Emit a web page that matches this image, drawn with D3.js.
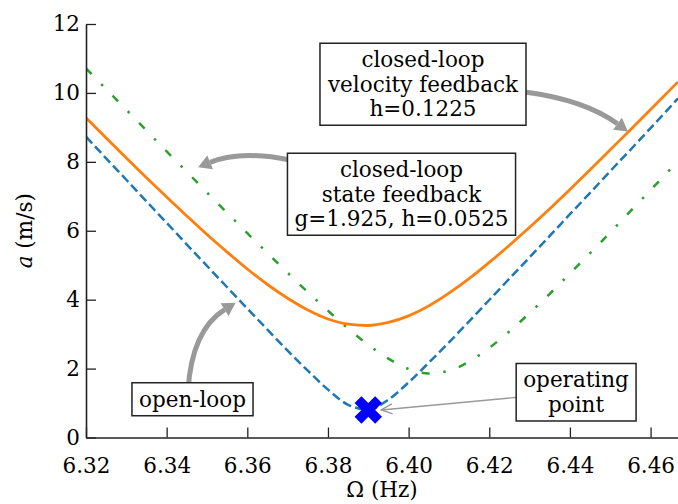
<!DOCTYPE html>
<html>
<head>
<meta charset="utf-8">
<script src="https://cdn.jsdelivr.net/npm/d3@7"></script>
<style>
  html, body { margin: 0; padding: 0; background: #fff; }
  svg { display: block; }
  text { font-family: "DejaVu Serif", serif; fill: #000; }
</style>
</head>
<body>
<svg id="chart" width="678" height="504"></svg>
<script>
// Excitation frequency (Hz)
const freq = [6.320, 6.325, 6.330, 6.335, 6.340, 6.345, 6.350, 6.355, 6.360, 6.365,
              6.370, 6.375, 6.380, 6.385, 6.390, 6.395, 6.400, 6.405, 6.410, 6.415,
              6.420, 6.425, 6.430, 6.435, 6.440, 6.445, 6.450, 6.455, 6.460, 6.465, 6.4668];
// Amplitude a (m/s), open loop
const openLoop = [8.73, 8.10, 7.48, 6.85, 6.23, 5.60, 4.98, 4.36, 3.74, 3.13,
                  2.52, 1.94, 1.39, 0.95, 0.81, 1.10, 1.60, 2.17, 2.76, 3.37,
                  3.99, 4.61, 5.23, 5.85, 6.48, 7.10, 7.73, 8.35, 8.98, 9.61, 9.84];
// Closed loop, velocity feedback h=0.1225
const velocityFb = [9.28, 8.69, 8.11, 7.54, 6.98, 6.43, 5.89, 5.38, 4.89, 4.44,
                    4.04, 3.70, 3.44, 3.29, 3.25, 3.34, 3.53, 3.82, 4.19, 4.61,
                    5.08, 5.58, 6.10, 6.64, 7.20, 7.77, 8.35, 8.93, 9.52, 10.11, 10.32];
// Closed loop, state feedback g=1.925, h=0.0525
const stateFb = [10.71, 10.11, 9.51, 8.91, 8.30, 7.71, 7.11, 6.52, 5.93, 5.35,
                 4.78, 4.22, 3.68, 3.16, 2.69, 2.29, 1.99, 1.86, 1.94, 2.20,
                 2.60, 3.08, 3.61, 4.17, 4.76, 5.35, 5.95, 6.57, 7.18, 7.80, 8.03];
// Operating point (Ω, a)
const operatingPoint = [6.39, 0.8];

const xTicks = [6.32, 6.34, 6.36, 6.38, 6.40, 6.42, 6.44, 6.46];
const yTicks = [0, 2, 4, 6, 8, 10, 12];

const svg = d3.select("#chart");
const padL = 86, padR = 678, padT = 24, padB = 437.5;

const x = d3.scaleLinear().domain([6.32, 6.4668]).range([padL, padR]);
const y = d3.scaleLinear().domain([0, 12]).range([padB, padT]);

// clip for the curves
svg.append("defs").append("clipPath").attr("id", "plotclip")
  .append("rect").attr("x", padL).attr("y", padT - 5).attr("width", padR - padL).attr("height", padB - padT + 5);

const curves = svg.append("g").attr("clip-path", "url(#plotclip)");

function series(vals) { return freq.map((f, i) => [f, vals[i]]); }
const line = d3.line().x(d => x(d[0])).y(d => y(d[1])).curve(d3.curveMonotoneX);

curves.append("path").datum(series(openLoop))
  .attr("d", line).attr("fill", "none").attr("stroke", "#1f77b4")
  .attr("stroke-width", 2.5).attr("stroke-dasharray", "9,4.2");

curves.append("path").datum(series(stateFb))
  .attr("d", line).attr("fill", "none").attr("stroke", "#2ca02c")
  .attr("stroke-width", 2.5).attr("stroke-dasharray", "8,13.75,2.5,13.75");

curves.append("path").datum(series(velocityFb))
  .attr("d", line).attr("fill", "none").attr("stroke", "#ff7f0e")
  .attr("stroke-width", 2.8);

// axes
const xAxis = d3.axisBottom(x).tickValues(xTicks).tickFormat(d3.format(".2f"))
  .tickSizeInner(-10).tickSizeOuter(0).tickPadding(20);
const yAxis = d3.axisLeft(y).tickValues(yTicks).tickFormat(d3.format("d"))
  .tickSizeInner(-10).tickSizeOuter(0).tickPadding(6);

const gx = svg.append("g").attr("transform", `translate(0,${padB})`).call(xAxis);
const gy = svg.append("g").attr("transform", `translate(${padL},0)`).call(yAxis);
[gx, gy].forEach(g => {
  g.selectAll("path.domain").attr("stroke", "#222").attr("stroke-width", 1.6);
  g.selectAll(".tick line").attr("stroke", "#222").attr("stroke-width", 1.3);
  g.selectAll(".tick text").attr("font-family", "DejaVu Serif").attr("font-size", 21.5).attr("fill", "#000");
});

// axis titles
svg.append("text").attr("x", (padL + padR) / 2).attr("y", 497)
  .attr("text-anchor", "middle").attr("font-size", 21.5).text("Ω (Hz)");
const yl = svg.append("text").attr("transform", `translate(32,${(padT + padB) / 2}) rotate(-90)`)
  .attr("text-anchor", "middle").attr("font-size", 21.5);
yl.append("tspan").attr("font-style", "italic").text("a");
yl.append("tspan").text(" (m/s)");

// operating point marker
svg.append("path")
  .attr("d", d3.symbol().type(d3.symbolCross).size(470)())
  .attr("transform", `translate(${x(operatingPoint[0])},${y(operatingPoint[1])}) rotate(45)`)
  .attr("fill", "#0000ff");

// annotations: thick curved arrows with a filled head
const ann = svg.append("g");
const grey = "#999999";

function fancyArrow(p0, c, p1) {
  const [x0, y0] = p0, [cx, cy] = c, [x1, y1] = p1;
  let dx = x1 - cx, dy = y1 - cy;
  const len = Math.hypot(dx, dy); dx /= len; dy /= len;
  const headLen = 13, headHalf = 7.5;
  const bx = x1 - dx * headLen, by = y1 - dy * headLen;
  ann.append("path")
    .attr("d", `M${x0},${y0} Q${cx},${cy} ${bx},${by}`)
    .attr("fill", "none").attr("stroke", grey).attr("stroke-width", 5);
  ann.append("path")
    .attr("d", `M${x1},${y1} L${bx - dy * headHalf},${by + dx * headHalf} L${bx + dy * headHalf},${by - dx * headHalf} Z`)
    .attr("fill", grey);
}

function thinArrow(p0, p1) {
  const [x0, y0] = p0, [x1, y1] = p1;
  let dx = x1 - x0, dy = y1 - y0;
  const len = Math.hypot(dx, dy); dx /= len; dy /= len;
  ann.append("line").attr("x1", x0).attr("y1", y0).attr("x2", x1).attr("y2", y1)
    .attr("stroke", grey).attr("stroke-width", 1.4);
  const hl = 11, hw = 5;
  const bx = x1 - dx * hl, by = y1 - dy * hl;
  ann.append("path")
    .attr("d", `M${bx - dy * hw},${by + dx * hw} L${x1},${y1} L${bx + dy * hw},${by - dx * hw}`)
    .attr("fill", "none").attr("stroke", grey).attr("stroke-width", 1.4);
}

// curve tips in data space
const velTip = [x(6.4544), y(8.88)];
const stateTip = [x(6.3478), y(7.84)];
const openTip = [x(6.3571), y(3.91)];

fancyArrow([525, 92], [585, 100], velTip);
fancyArrow([290, 160], [240, 150], stateTip);
fancyArrow([188, 390], [192, 330], openTip);
thinArrow([520, 397], [x(operatingPoint[0]) + 13, y(operatingPoint[1])]);

// text boxes
function textBox(cx, cy, lines, lineH) {
  const g = ann.append("g");
  const t = g.append("text").attr("text-anchor", "middle").attr("font-size", 21.5);
  const n = lines.length;
  lines.forEach((s, i) => {
    t.append("tspan").attr("x", cx).attr("y", cy + (i - (n - 1) / 2) * lineH).attr("dy", "0.36em").text(s);
  });
  const b = t.node().getBBox();
  const padX = 7, padY = 4;
  g.insert("rect", "text")
    .attr("x", b.x - padX).attr("y", b.y - padY)
    .attr("width", b.width + 2 * padX).attr("height", b.height + 2 * padY)
    .attr("fill", "#fff").attr("stroke", "#222").attr("stroke-width", 1.5);
}

textBox(423, 84, ["closed-loop", "velocity feedback", "h=0.1225"], 24.5);
textBox(401.5, 194, ["closed-loop", "state feedback", "g=1.925, h=0.0525"], 24.5);
textBox(192.5, 399, ["open-loop"], 24.5);
textBox(576, 392, ["operating", "point"], 24.5);
</script>
</body>
</html>
